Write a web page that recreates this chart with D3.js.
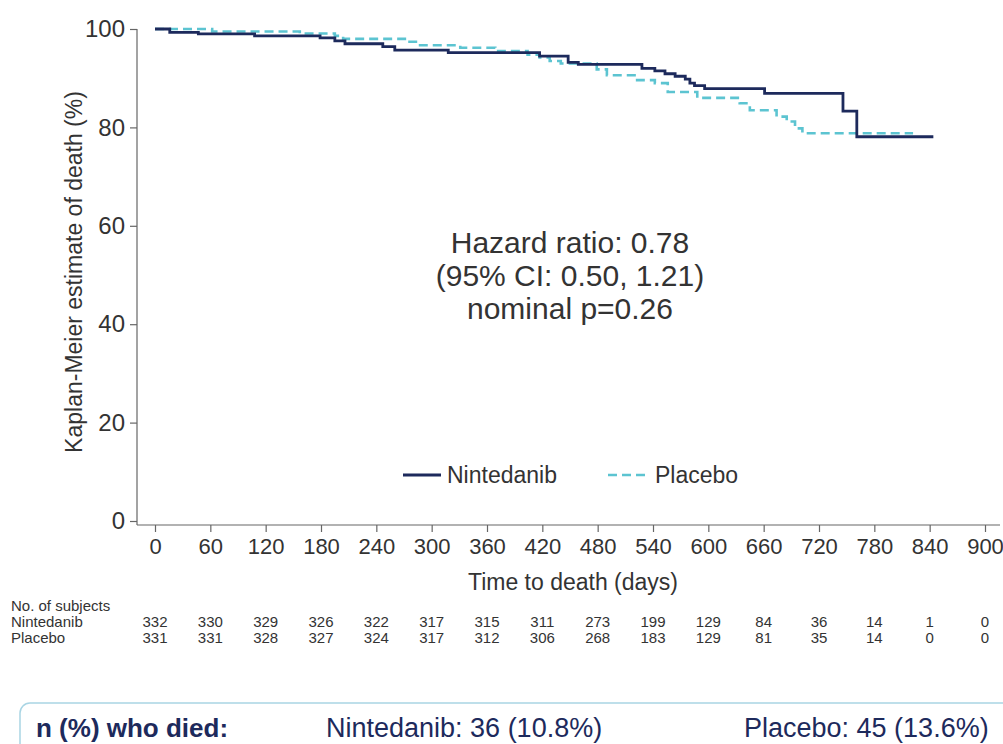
<!DOCTYPE html>
<html>
<head>
<meta charset="utf-8">
<script src="https://cdn.jsdelivr.net/npm/d3@7"></script>
<style>
  html, body { margin: 0; padding: 0; background: #ffffff; }
  svg { display: block; }
  text { font-family: "Liberation Sans", Arial, sans-serif; }
</style>
</head>
<body>
<svg id="chart" width="1003" height="744"></svg>
<script>
// Kaplan-Meier step data: time (days) and estimate (%) after each step
const nintedanibDays = [0, 16, 47, 108, 179, 195, 206, 247, 260, 318, 417, 448, 459, 528, 542, 553, 564, 575, 580, 585, 596, 661, 746, 761, 844];
const nintedanibPct  = [100, 99.3, 99.0, 98.6, 98.2, 97.6, 97.0, 96.4, 95.7, 95.2, 94.5, 93.2, 92.8, 92.0, 91.5, 90.9, 90.4, 89.8, 89.0, 88.5, 87.9, 86.9, 83.3, 78.1, 78.1];

const placeboDays = [0, 62, 157, 195, 204, 273, 285, 331, 369, 404, 417, 428, 440, 479, 490, 520, 542, 556, 588, 634, 645, 674, 685, 694, 702, 822];
const placeboPct  = [100, 99.5, 99.1, 98.6, 98.0, 97.4, 96.7, 96.2, 95.5, 94.8, 94.2, 93.5, 93.0, 91.8, 90.6, 89.6, 89.0, 87.2, 86.0, 84.9, 83.5, 82.2, 81.2, 79.8, 78.8, 78.8];

// Axis ticks
const xTicks = [0, 60, 120, 180, 240, 300, 360, 420, 480, 540, 600, 660, 720, 780, 840, 900];
const yTicks = [0, 20, 40, 60, 80, 100];

// Numbers at risk at each x tick
const riskNintedanib = [332, 330, 329, 326, 322, 317, 315, 311, 273, 199, 129, 84, 36, 14, 1, 0];
const riskPlacebo    = [331, 331, 328, 327, 324, 317, 312, 306, 268, 183, 129, 81, 35, 14, 0, 0];

const statsLines = ["Hazard ratio: 0.78", "(95% CI: 0.50, 1.21)", "nominal p=0.26"];
const deathLabel = "n (%) who died:";
const deathNintedanib = "Nintedanib: 36 (10.8%)";
const deathPlacebo = "Placebo: 45 (13.6%)";

const NAVY = "#1d2a5c";
const CYAN = "#5cc4d1";
const TEXT = "#333333";
const AXIS = "#666666";

const svg = d3.select("#chart");

const x = d3.scaleLinear().domain([0, 900]).range([155, 985]);
const y = d3.scaleLinear().domain([0, 100]).range([521, 29]);

const axisY0 = 525;   // x axis baseline
const axisX0 = 137;   // y axis position

// Y axis
const yAxis = d3.axisLeft(y).tickValues(yTicks).tickSize(7).tickPadding(5);
const gy = svg.append("g").attr("transform", `translate(${axisX0},0)`).call(yAxis);
gy.select(".domain").remove();
gy.selectAll(".tick line").attr("stroke", AXIS).attr("stroke-width", 1.2);
gy.selectAll(".tick text").attr("fill", TEXT).style("font-size", "24px")
  .style("font-family", "'Liberation Sans', Arial, sans-serif");
svg.append("line").attr("x1", axisX0).attr("x2", axisX0).attr("y1", y(100)).attr("y2", axisY0)
  .attr("stroke", AXIS).attr("stroke-width", 1.2);

// X axis
const xAxis = d3.axisBottom(x).tickValues(xTicks).tickSize(7).tickPadding(6);
const gx = svg.append("g").attr("transform", `translate(0,${axisY0})`).call(xAxis);
gx.select(".domain").remove();
gx.selectAll(".tick line").attr("stroke", AXIS).attr("stroke-width", 1.2);
gx.selectAll(".tick text").attr("fill", TEXT).style("font-size", "22px")
  .style("font-family", "'Liberation Sans', Arial, sans-serif");
svg.append("line").attr("x1", axisX0).attr("x2", 1000).attr("y1", axisY0).attr("y2", axisY0)
  .attr("stroke", AXIS).attr("stroke-width", 1.2);

// Axis titles
svg.append("text")
  .attr("transform", "translate(82,272) rotate(-90)")
  .attr("text-anchor", "middle")
  .attr("fill", TEXT).style("font-size", "23px")
  .text("Kaplan-Meier estimate of death (%)");

svg.append("text")
  .attr("x", 573).attr("y", 590)
  .attr("text-anchor", "middle")
  .attr("fill", TEXT).style("font-size", "23px")
  .text("Time to death (days)");

// Curves
const stepLine = d3.line()
  .x(d => x(d[0]))
  .y(d => y(d[1]))
  .curve(d3.curveStepAfter);

svg.append("path")
  .datum(d3.zip(placeboDays, placeboPct))
  .attr("fill", "none").attr("stroke", CYAN).attr("stroke-width", 2.6)
  .attr("stroke-dasharray", "9,5")
  .attr("d", stepLine);

svg.append("path")
  .datum(d3.zip(nintedanibDays, nintedanibPct))
  .attr("fill", "none").attr("stroke", NAVY).attr("stroke-width", 2.8)
  .attr("d", stepLine);

// Hazard ratio annotation
svg.append("g").selectAll("text").data(statsLines).join("text")
  .attr("x", 570).attr("y", (d, i) => 253 + i * 33)
  .attr("text-anchor", "middle")
  .attr("fill", TEXT).style("font-size", "30px")
  .text(d => d);

// Legend
const legend = svg.append("g");
legend.append("line").attr("x1", 403).attr("x2", 441).attr("y1", 475).attr("y2", 475)
  .attr("stroke", NAVY).attr("stroke-width", 2.8);
legend.append("text").attr("x", 447).attr("y", 483).attr("fill", TEXT)
  .style("font-size", "23px").text("Nintedanib");
legend.append("line").attr("x1", 608).attr("x2", 648).attr("y1", 475).attr("y2", 475)
  .attr("stroke", CYAN).attr("stroke-width", 2.6).attr("stroke-dasharray", "9,5");
legend.append("text").attr("x", 655).attr("y", 483).attr("fill", TEXT)
  .style("font-size", "23px").text("Placebo");

// Numbers at risk table
const risk = svg.append("g").style("font-size", "15px").attr("fill", TEXT);
risk.append("text").attr("x", 11).attr("y", 611).text("No. of subjects");
risk.append("text").attr("x", 11).attr("y", 627).text("Nintedanib");
risk.append("text").attr("x", 11).attr("y", 643).text("Placebo");
risk.selectAll("text.rn").data(d3.zip(xTicks, riskNintedanib)).join("text")
  .attr("class", "rn").attr("x", d => x(d[0])).attr("y", 627)
  .attr("text-anchor", "middle").text(d => d[1]);
risk.selectAll("text.rp").data(d3.zip(xTicks, riskPlacebo)).join("text")
  .attr("class", "rp").attr("x", d => x(d[0])).attr("y", 643)
  .attr("text-anchor", "middle").text(d => d[1]);

// Deaths summary box
const box = svg.append("g");
box.append("rect").attr("x", 20).attr("y", 703).attr("width", 1000).attr("height", 80)
  .attr("rx", 10).attr("fill", "#ffffff").attr("stroke", "#a9d5e4").attr("stroke-width", 1.5);
box.append("text").attr("x", 36).attr("y", 737).attr("fill", NAVY)
  .style("font-size", "26px").style("font-weight", "bold").text(deathLabel);
box.append("text").attr("x", 326).attr("y", 737).attr("fill", NAVY)
  .style("font-size", "27px").text(deathNintedanib);
box.append("text").attr("x", 744).attr("y", 737).attr("fill", NAVY)
  .style("font-size", "27px").text(deathPlacebo);
</script>
</body>
</html>
